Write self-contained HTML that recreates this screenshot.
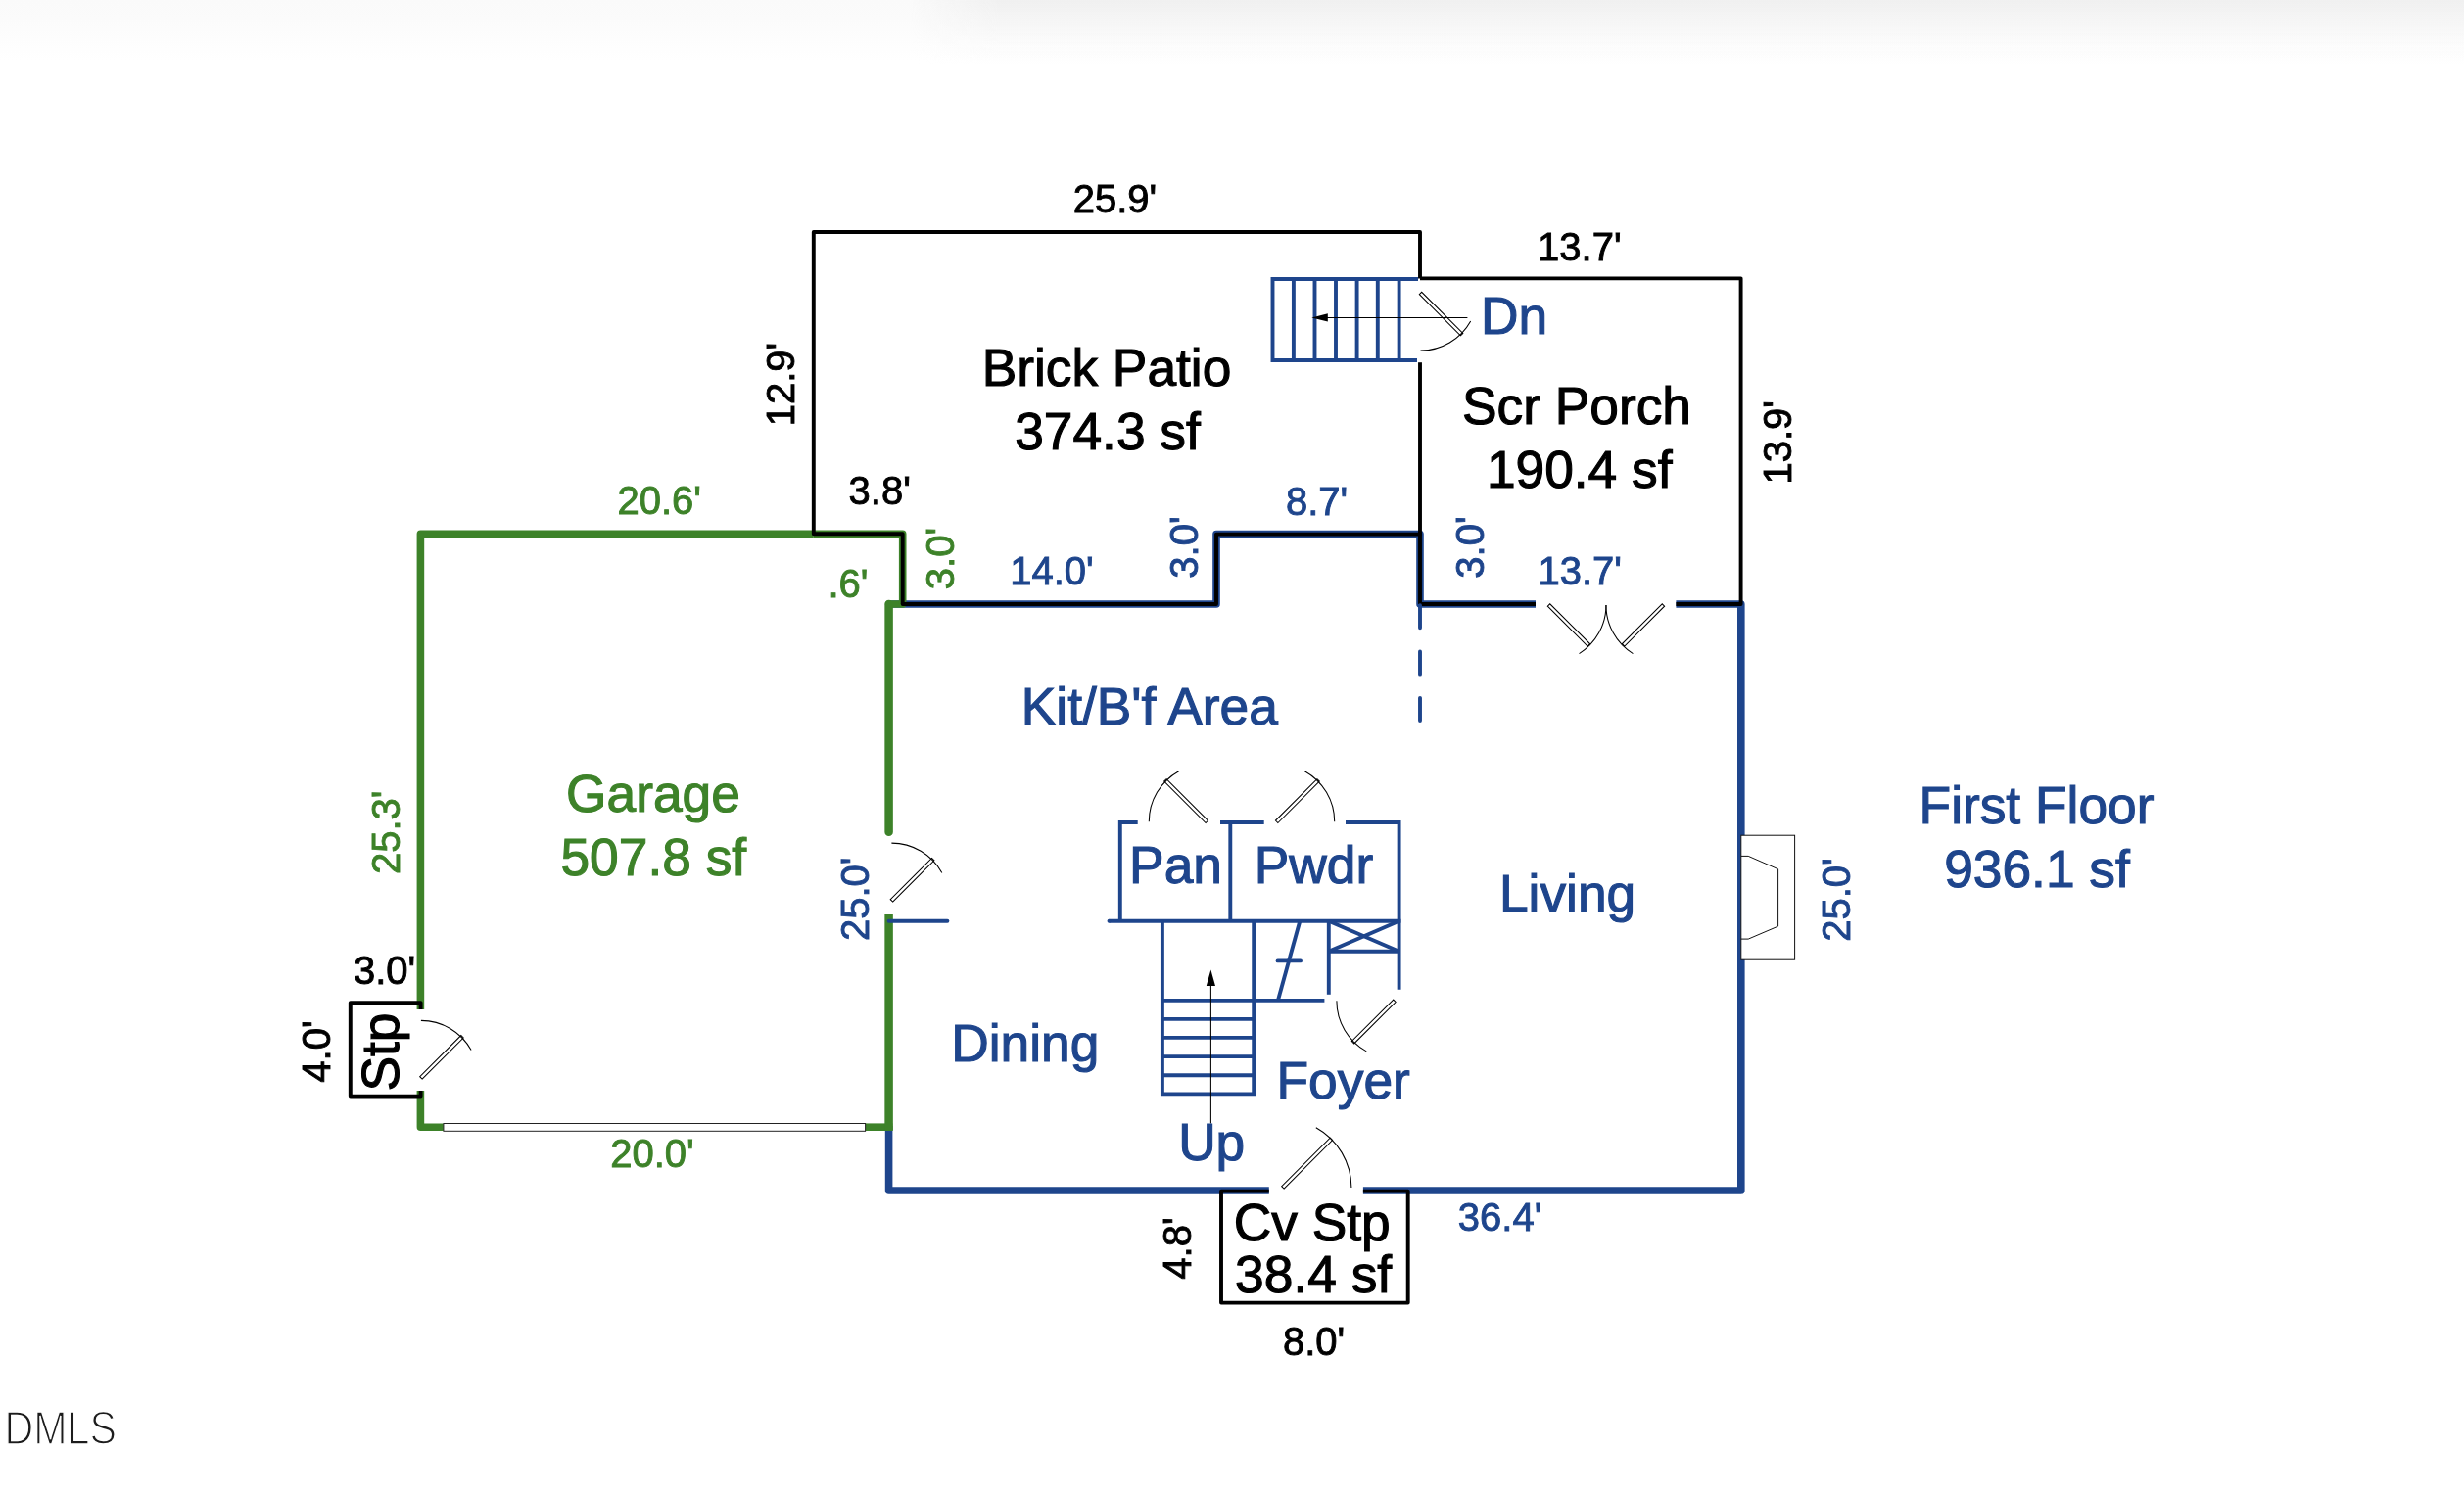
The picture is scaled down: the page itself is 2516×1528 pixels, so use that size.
<!DOCTYPE html>
<html><head><meta charset="utf-8"><title>First Floor Plan</title>
<style>
html,body{margin:0;padding:0;background:#fff;}
body{width:2516px;height:1528px;overflow:hidden;position:relative;}
.shadeL{position:absolute;left:0;top:0;width:2516px;height:70px;background:linear-gradient(to bottom,#fafafa 0,#fbfbfb 20px,#fdfdfd 40px,#fff 62px);}
.shadeR{position:absolute;left:930px;top:0;width:1586px;height:72px;background:linear-gradient(to bottom,rgba(240,240,240,1) 0,rgba(245,245,245,.85) 25px,rgba(251,251,251,.6) 48px,rgba(255,255,255,0) 70px);
 -webkit-mask-image:linear-gradient(to right,transparent 0,#000 90px);mask-image:linear-gradient(to right,transparent 0,#000 90px);}
svg{position:absolute;left:0;top:0;will-change:transform;}
svg text{font-family:"Liberation Sans",Arial,Helvetica,sans-serif;}
</style></head><body>
<div class="shadeL"></div><div class="shadeR"></div>
<svg width="2516" height="1528" viewBox="0 0 2516 1528">
<path d="M907.6,617 L1242,617 L1242,545.6 L1450,545.6 L1450,617 L1568,617" fill="none" stroke="#1e458c" stroke-width="7.6" stroke-linecap="butt" stroke-linejoin="round" />
<path d="M1711.4,617 L1777.8,617 L1777.8,1216 L1391.9,1216" fill="none" stroke="#1e458c" stroke-width="7.6" stroke-linecap="butt" stroke-linejoin="round" />
<path d="M1295.8,1216 L907.6,1216 L907.6,1150" fill="none" stroke="#1e458c" stroke-width="7.6" stroke-linecap="butt" stroke-linejoin="round" />
<path d="M830.8,545.2 L429.4,545.2 L429.4,1031" fill="none" stroke="#3d8229" stroke-width="7.6" stroke-linecap="butt" stroke-linejoin="round" />
<path d="M429.4,1113.9 L429.4,1151.2 L452.9,1151.2" fill="none" stroke="#3d8229" stroke-width="7.6" stroke-linecap="butt" stroke-linejoin="round" />
<path d="M883.6,1151.2 L911.4,1151.2" fill="none" stroke="#3d8229" stroke-width="7.6" stroke-linecap="butt" stroke-linejoin="miter" />
<path d="M907.6,1154.8 L907.6,933.9" fill="none" stroke="#3d8229" stroke-width="8.5" stroke-linecap="butt" stroke-linejoin="miter" />
<path d="M907.6,849.8 L907.6,617" fill="none" stroke="#3d8229" stroke-width="8.5" stroke-linecap="round" stroke-linejoin="miter" />
<path d="M907.6,617 L921.7,617" fill="none" stroke="#3d8229" stroke-width="7.6" stroke-linecap="round" stroke-linejoin="miter" />
<path d="M830.8,545.2 L921.7,545.2 L921.7,617" fill="none" stroke="#3d8229" stroke-width="7.6" stroke-linecap="butt" stroke-linejoin="round" />
<rect x="452.9" y="1147.5" width="430.7" height="7.8" fill="#fff" stroke="#222" stroke-width="1.0"/>
<path d="M921.7,617 L921.7,545.2 L830.8,545.2 L830.8,237 L1450,237 L1450,284.4" fill="none" stroke="#000" stroke-width="3.9" stroke-linecap="butt" stroke-linejoin="round" />
<path d="M1450,370.2 L1450,617" fill="none" stroke="#000" stroke-width="3.9" stroke-linecap="butt" stroke-linejoin="miter" />
<path d="M921.7,617 L1242,617 L1242,545.6 L1450,545.6" fill="none" stroke="#000" stroke-width="3.9" stroke-linecap="round" stroke-linejoin="round" />
<path d="M1450,284.4 L1777.6,284.4 L1777.6,617 L1711.4,617" fill="none" stroke="#000" stroke-width="3.9" stroke-linecap="butt" stroke-linejoin="round" />
<path d="M1450,617 L1568,617" fill="none" stroke="#000" stroke-width="3.9" stroke-linecap="butt" stroke-linejoin="miter" />
<path d="M429.6,1031 L429.6,1024.1 L357.8,1024.1 L357.8,1119.6 L429.6,1119.6 L429.6,1113.9" fill="none" stroke="#000" stroke-width="3.9" stroke-linecap="butt" stroke-linejoin="round" />
<path d="M1295.8,1216.6 L1247,1216.6 L1247,1330.6 L1437.7,1330.6 L1437.7,1216.6 L1391.9,1216.6" fill="none" stroke="#000" stroke-width="3.9" stroke-linecap="butt" stroke-linejoin="round" />
<path d="M1450,618.25 L1450,740" fill="none" stroke="#1e458c" stroke-width="3.9" stroke-dasharray="23.1 24.2" stroke-linecap="round"/>
<line x1="907.6" y1="940.7" x2="967.4" y2="940.7" stroke="#1e458c" stroke-width="3.9" stroke-linecap="round"/>
<path d="M1161.7,840 L1143.8,840 L1143.8,940.7" fill="none" stroke="#1e458c" stroke-width="3.9" stroke-linecap="butt" stroke-linejoin="miter" />
<line x1="1246" y1="840" x2="1290.7" y2="840" stroke="#1e458c" stroke-width="3.9" stroke-linecap="butt"/>
<path d="M1374,840 L1428.6,840 L1428.6,1010.8" fill="none" stroke="#1e458c" stroke-width="3.9" stroke-linecap="butt" stroke-linejoin="miter" />
<line x1="1256.3" y1="840" x2="1256.3" y2="940.7" stroke="#1e458c" stroke-width="3.9" stroke-linecap="butt"/>
<line x1="1132.5" y1="940.7" x2="1430.5" y2="940.7" stroke="#1e458c" stroke-width="3.9" stroke-linecap="butt"/>
<circle cx="1132.5" cy="940.7" r="1.95" fill="#1e458c"/>
<path d="M1186.9,940.7 L1186.9,1117.4 L1280.2,1117.4 L1280.2,940.7" fill="none" stroke="#1e458c" stroke-width="3.9" stroke-linecap="butt" stroke-linejoin="miter" />
<line x1="1186.9" y1="1021.9" x2="1280.2" y2="1021.9" stroke="#1e458c" stroke-width="3.9" stroke-linecap="butt"/>
<line x1="1186.9" y1="1040.9" x2="1280.2" y2="1040.9" stroke="#1e458c" stroke-width="3.9" stroke-linecap="butt"/>
<line x1="1186.9" y1="1059.9" x2="1280.2" y2="1059.9" stroke="#1e458c" stroke-width="3.9" stroke-linecap="butt"/>
<line x1="1186.9" y1="1079.1" x2="1280.2" y2="1079.1" stroke="#1e458c" stroke-width="3.9" stroke-linecap="butt"/>
<line x1="1186.9" y1="1098.2" x2="1280.2" y2="1098.2" stroke="#1e458c" stroke-width="3.9" stroke-linecap="butt"/>
<line x1="1280.2" y1="1021.9" x2="1352.4" y2="1021.9" stroke="#1e458c" stroke-width="3.9" stroke-linecap="butt"/>
<line x1="1356.8" y1="940.7" x2="1356.8" y2="1015.8" stroke="#1e458c" stroke-width="3.9" stroke-linecap="butt"/>
<line x1="1356.8" y1="971.8" x2="1428.6" y2="971.8" stroke="#1e458c" stroke-width="3.9" stroke-linecap="butt"/>
<line x1="1356.8" y1="940.7" x2="1428.6" y2="971.8" stroke="#1e458c" stroke-width="3.9" stroke-linecap="butt"/>
<line x1="1356.8" y1="971.8" x2="1428.6" y2="940.7" stroke="#1e458c" stroke-width="3.9" stroke-linecap="butt"/>
<line x1="1327.3" y1="940.7" x2="1304.9" y2="1021.9" stroke="#1e458c" stroke-width="3.9" stroke-linecap="butt"/>
<line x1="1304.6" y1="981.4" x2="1328" y2="981.4" stroke="#1e458c" stroke-width="3.9" stroke-linecap="round"/>
<line x1="1236.4" y1="1000" x2="1236.4" y2="1147.6" stroke="#000" stroke-width="1.05" stroke-linecap="butt"/>
<path d="M1236.4,990.6 L1231.8,1006.9 L1241,1006.9Z" fill="#000"/>
<path d="M1448,285 L1299.5,285 L1299.5,368 L1447,368" fill="none" stroke="#1e458c" stroke-width="3.9" stroke-linecap="butt" stroke-linejoin="miter" />
<line x1="1320.9" y1="285" x2="1320.9" y2="368" stroke="#1e458c" stroke-width="3.9" stroke-linecap="butt"/>
<line x1="1342.5" y1="285" x2="1342.5" y2="368" stroke="#1e458c" stroke-width="3.9" stroke-linecap="butt"/>
<line x1="1364" y1="285" x2="1364" y2="368" stroke="#1e458c" stroke-width="3.9" stroke-linecap="butt"/>
<line x1="1385.6" y1="285" x2="1385.6" y2="368" stroke="#1e458c" stroke-width="3.9" stroke-linecap="butt"/>
<line x1="1406.8" y1="285" x2="1406.8" y2="368" stroke="#1e458c" stroke-width="3.9" stroke-linecap="butt"/>
<line x1="1428.6" y1="285" x2="1428.6" y2="368" stroke="#1e458c" stroke-width="3.9" stroke-linecap="butt"/>
<path d="M1233.5,838.1 L1191.1,795.7 L1188.7,798.1 L1231.1,840.5Z" fill="#fff" stroke="#000" stroke-width="1.05"/>
<path d="M1173.3,839.3 A59,59 0 0 1 1203.7,787.7" fill="none" stroke="#000" stroke-width="1.05"/>
<path d="M1304.9,840.5 L1347.3,798.1 L1344.9,795.7 L1302.5,838.1Z" fill="#fff" stroke="#000" stroke-width="1.05"/>
<path d="M1362.7,839.3 A59,59 0 0 0 1332.3,787.7" fill="none" stroke="#000" stroke-width="1.05"/>
<path d="M1422.7,1021.1 L1380.3,1063.5 L1382.7,1065.9 L1425.1,1023.5Z" fill="#fff" stroke="#000" stroke-width="1.05"/>
<path d="M1364.9,1022.3 A59,59 0 0 0 1395.3,1073.9" fill="none" stroke="#000" stroke-width="1.05"/>
<path d="M1311.1,1214.1 L1360.6,1164.6 L1358.2,1162.2 L1308.7,1211.7Z" fill="#fff" stroke="#000" stroke-width="1.05"/>
<path d="M1379.9,1212.9 A70,70 0 0 0 1343.8,1151.7" fill="none" stroke="#000" stroke-width="1.05"/>
<path d="M1449.3,300.7 L1491.4,342.8 L1493.8,340.4 L1451.7,298.3Z" fill="#fff" stroke="#000" stroke-width="1.05"/>
<path d="M1450.5,358.0 A58.5,58.5 0 0 0 1501.7,327.9" fill="none" stroke="#000" stroke-width="1.05"/>
<path d="M1580.3,619.2 L1621.1,660.0 L1623.5,657.6 L1582.7,616.8Z" fill="#fff" stroke="#000" stroke-width="1.05"/>
<path d="M1640.0,618.0 A58.5,58.5 0 0 1 1612.5,667.6" fill="none" stroke="#000" stroke-width="1.05"/>
<path d="M1697.2,616.8 L1656.4,657.6 L1658.8,660.0 L1699.6,619.2Z" fill="#fff" stroke="#000" stroke-width="1.05"/>
<path d="M1639.9,618.0 A58.5,58.5 0 0 0 1667.4,667.6" fill="none" stroke="#000" stroke-width="1.05"/>
<path d="M431.1,1102.1 L473.2,1060.0 L470.8,1057.6 L428.7,1099.7Z" fill="#fff" stroke="#000" stroke-width="1.05"/>
<path d="M429.9,1042.4 A58.5,58.5 0 0 1 481.1,1072.5" fill="none" stroke="#000" stroke-width="1.05"/>
<path d="M911.6,921.1 L953.9,878.8 L951.5,876.4 L909.2,918.7Z" fill="#fff" stroke="#000" stroke-width="1.05"/>
<path d="M910.4,861.1 A58.8,58.8 0 0 1 961.8,891.4" fill="none" stroke="#000" stroke-width="1.05"/>
<line x1="1350" y1="324.4" x2="1498.4" y2="324.4" stroke="#000" stroke-width="1.05" stroke-linecap="butt"/>
<path d="M1339.3,324.4 L1355.8,320.3 L1355.8,328.5Z" fill="#000"/>
<rect x="1777.8" y="853.2" width="54.8" height="127" fill="#fff" stroke="#111" stroke-width="1.0"/>
<path d="M1777.8,874.4 L1785.2,874.4 L1815.6,887.7 L1815.6,946.1 L1785.2,959.1 L1777.8,959.1" fill="none" stroke="#111" stroke-width="1.0"/>
<text x="1130" y="393.5" font-size="53.3" fill="#000" stroke="#000" stroke-width="1.1" text-anchor="middle" >Brick Patio</text>
<text x="1131" y="458.6" font-size="53.3" fill="#000" stroke="#000" stroke-width="1.1" text-anchor="middle" >374.3 sf</text>
<text x="1610" y="432.6" font-size="53.3" fill="#000" stroke="#000" stroke-width="1.1" text-anchor="middle" >Scr Porch</text>
<text x="1612.7" y="498.4" font-size="53.3" fill="#000" stroke="#000" stroke-width="1.1" text-anchor="middle" >190.4 sf</text>
<text x="667" y="829.3" font-size="53.3" fill="#3d8229" stroke="#3d8229" stroke-width="1.1" text-anchor="middle" >Garage</text>
<text x="667.3" y="894.2" font-size="53.3" fill="#3d8229" stroke="#3d8229" stroke-width="1.1" text-anchor="middle" >507.8 sf</text>
<text x="2079.5" y="841.4" font-size="53.3" fill="#1e458c" stroke="#1e458c" stroke-width="1.1" text-anchor="middle" >First Floor</text>
<text x="2080" y="906.3" font-size="53.3" fill="#1e458c" stroke="#1e458c" stroke-width="1.1" text-anchor="middle" >936.1 sf</text>
<text x="1173.8" y="739.5" font-size="53.3" fill="#1e458c" stroke="#1e458c" stroke-width="1.1" text-anchor="middle" >Kit/B&#39;f Area</text>
<text x="1046.8" y="1084.2" font-size="53.3" fill="#1e458c" stroke="#1e458c" stroke-width="1.1" text-anchor="middle" >Dining</text>
<text x="1600.6" y="931.2" font-size="53.3" fill="#1e458c" stroke="#1e458c" stroke-width="1.1" text-anchor="middle" >Living</text>
<text x="1371.7" y="1122.2" font-size="53.3" fill="#1e458c" stroke="#1e458c" stroke-width="1.1" text-anchor="middle" >Foyer</text>
<text x="1200.5" y="901.8" font-size="53.3" fill="#1e458c" stroke="#1e458c" stroke-width="1.1" text-anchor="middle" >Pan</text>
<text x="1341.5" y="901.8" font-size="53.3" fill="#1e458c" stroke="#1e458c" stroke-width="1.1" text-anchor="middle" >Pwdr</text>
<text x="1237.2" y="1185.2" font-size="53.3" fill="#1e458c" stroke="#1e458c" stroke-width="1.1" text-anchor="middle" >Up</text>
<text x="1546" y="340.5" font-size="53.3" fill="#1e458c" stroke="#1e458c" stroke-width="1.1" text-anchor="middle" >Dn</text>
<text x="1339.8" y="1266.6" font-size="53.3" fill="#000" stroke="#000" stroke-width="1.1" text-anchor="middle" >Cv Stp</text>
<text x="1341.1" y="1320.0" font-size="53.3" fill="#000" stroke="#000" stroke-width="1.1" text-anchor="middle" >38.4 sf</text>
<text x="407.1" y="1074.5" font-size="53.3" fill="#000" stroke="#000" stroke-width="1.1" text-anchor="middle" transform="rotate(-90 407.1 1074.5)" >Stp</text>
<text x="1138.5" y="217" font-size="40" fill="#000" stroke="#000" stroke-width="0.9" text-anchor="middle" >25.9&#39;</text>
<text x="1612.8" y="265.5" font-size="40" fill="#000" stroke="#000" stroke-width="0.9" text-anchor="middle" >13.7&#39;</text>
<text x="810.7" y="392.6" font-size="40" fill="#000" stroke="#000" stroke-width="0.9" text-anchor="middle" transform="rotate(-90 810.7 392.6)" >12.9&#39;</text>
<text x="1828.8" y="451.8" font-size="40" fill="#000" stroke="#000" stroke-width="0.9" text-anchor="middle" transform="rotate(-90 1828.8 451.8)" >13.9&#39;</text>
<text x="898.2" y="515.2" font-size="40" fill="#000" stroke="#000" stroke-width="0.9" text-anchor="middle" >3.8&#39;</text>
<text x="673.2" y="524.8" font-size="40" fill="#3d8229" stroke="#3d8229" stroke-width="0.9" text-anchor="middle" >20.6&#39;</text>
<text x="866" y="610.2" font-size="40" fill="#3d8229" stroke="#3d8229" stroke-width="0.9" text-anchor="middle" >.6&#39;</text>
<text x="974" y="570.5" font-size="40" fill="#3d8229" stroke="#3d8229" stroke-width="0.9" text-anchor="middle" transform="rotate(-90 974 570.5)" >3.0&#39;</text>
<text x="1074" y="597.2" font-size="40" fill="#1e458c" stroke="#1e458c" stroke-width="0.9" text-anchor="middle" >14.0&#39;</text>
<text x="1222.5" y="559" font-size="40" fill="#1e458c" stroke="#1e458c" stroke-width="0.9" text-anchor="middle" transform="rotate(-90 1222.5 559)" >3.0&#39;</text>
<text x="1344.6" y="526.1" font-size="40" fill="#1e458c" stroke="#1e458c" stroke-width="0.9" text-anchor="middle" >8.7&#39;</text>
<text x="1515.3" y="559" font-size="40" fill="#1e458c" stroke="#1e458c" stroke-width="0.9" text-anchor="middle" transform="rotate(-90 1515.3 559)" >3.0&#39;</text>
<text x="1613.2" y="597.4" font-size="40" fill="#1e458c" stroke="#1e458c" stroke-width="0.9" text-anchor="middle" >13.7&#39;</text>
<text x="408.4" y="850.3" font-size="40" fill="#3d8229" stroke="#3d8229" stroke-width="0.9" text-anchor="middle" transform="rotate(-90 408.4 850.3)" >25.3&#39;</text>
<text x="887.2" y="918.3" font-size="40" fill="#1e458c" stroke="#1e458c" stroke-width="0.9" text-anchor="middle" transform="rotate(-90 887.2 918.3)" >25.0&#39;</text>
<text x="1889.4" y="919" font-size="40" fill="#1e458c" stroke="#1e458c" stroke-width="0.9" text-anchor="middle" transform="rotate(-90 1889.4 919)" >25.0&#39;</text>
<text x="392.6" y="1004.6" font-size="40" fill="#000" stroke="#000" stroke-width="0.9" text-anchor="middle" >3.0&#39;</text>
<text x="337" y="1074" font-size="40" fill="#000" stroke="#000" stroke-width="0.9" text-anchor="middle" transform="rotate(-90 337 1074)" >4.0&#39;</text>
<text x="666" y="1192.4" font-size="40" fill="#3d8229" stroke="#3d8229" stroke-width="0.9" text-anchor="middle" >20.0&#39;</text>
<text x="1216" y="1275" font-size="40" fill="#000" stroke="#000" stroke-width="0.9" text-anchor="middle" transform="rotate(-90 1216 1275)" >4.8&#39;</text>
<text x="1531.6" y="1257.3" font-size="40" fill="#1e458c" stroke="#1e458c" stroke-width="0.9" text-anchor="middle" >36.4&#39;</text>
<text x="1341.6" y="1383.6" font-size="40" fill="#000" stroke="#000" stroke-width="0.9" text-anchor="middle" >8.0&#39;</text>
<text x="4.4" y="1475" font-size="48.4" fill="#1c1c1c" stroke="#fff" stroke-width="1.6" textLength="114.5" lengthAdjust="spacingAndGlyphs">DMLS</text>
</svg>
</body></html>
